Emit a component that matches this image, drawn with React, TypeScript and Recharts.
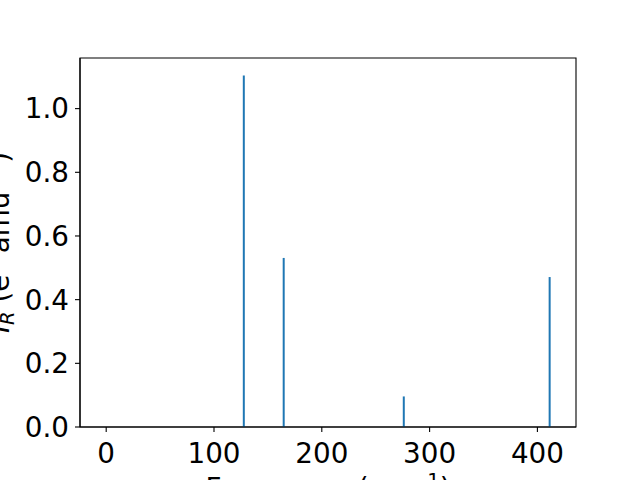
import { BarChart, Bar, XAxis, YAxis, Label, ReferenceArea } from "recharts";

// stick spectrum: frequency (cm^-1) vs IR intensity
const frequencies = [127.6, 164.6, 276.0, 411.3];
const intensities = [1.104, 0.531, 0.096, 0.471];
const xTicks = [0, 100, 200, 300, 400];
const yTicks = [0, 0.2, 0.4, 0.6, 0.8, 1.0];
const xDomain = [-24.3, 435.8];
const yDomain = [0, 1.159];

const data = frequencies.map((f, i) => ({ freq: f, ir: intensities[i] }));

const FONT = "DejaVu Sans";
const FS = 27.8;
const SUB = 19.5;

function YTitle({ viewBox }: any) {
  const x = viewBox.x + 9;
  const y = viewBox.y + viewBox.height / 2;
  return (
    <text
      x={x}
      y={y}
      transform={`rotate(-90, ${x}, ${y})`}
      textAnchor="middle"
      fontFamily={FONT}
      fontSize={FS}
      fill="#000"
    >
      <tspan fontStyle="italic">I</tspan>
      <tspan fontStyle="italic" fontSize={SUB} dy={5}>R</tspan>
      <tspan dy={-5}> (e</tspan>
      <tspan fontSize={SUB} dy={-11}>2</tspan>
      <tspan dy={11}> amu</tspan>
      <tspan fontSize={SUB} dy={-11}>−1</tspan>
      <tspan dy={11}>)</tspan>
    </text>
  );
}

function XTitle({ viewBox }: any) {
  const x = viewBox.x + viewBox.width / 2;
  const y = 498;
  return (
    <text x={x} y={y} textAnchor="middle" fontFamily={FONT} fontSize={FS} fill="#000">
      <tspan>Frequency (cm</tspan>
      <tspan fontSize={SUB} dy={-11}>−1</tspan>
      <tspan dy={11}>)</tspan>
    </text>
  );
}

export default function App() {
  const tick = { fontFamily: FONT, fontSize: FS, fill: "#000" };
  return (
    <div style={{ position: "absolute", left: 0, top: 0, width: 640, height: 480, background: "#fff" }}>
      <BarChart
        width={640}
        height={480}
        data={data}
        margin={{ top: 58, right: 64, bottom: 0, left: 0 }}
      >
        <XAxis
          dataKey="freq"
          type="number"
          domain={xDomain}
          ticks={xTicks}
          allowDataOverflow
          height={53}
          tick={tick}
          tickSize={5}
          tickMargin={11}
          tickLine={{ stroke: "#000", strokeWidth: 1.1 }}
          axisLine={{ stroke: "#000", strokeWidth: 1.1 }}
          interval={0}
        >
          <Label content={XTitle} />
        </XAxis>
        <YAxis
          type="number"
          domain={yDomain}
          ticks={yTicks}
          allowDataOverflow
          width={80}
          tick={tick}
          tickSize={5}
          tickMargin={6}
          tickFormatter={(v: number) => v.toFixed(1)}
          tickLine={{ stroke: "#000", strokeWidth: 1.1 }}
          axisLine={{ stroke: "#000", strokeWidth: 1.1 }}
          interval={0}
        >
          <Label content={YTitle} />
        </YAxis>
        <Bar dataKey="ir" fill="#1f77b4" barSize={2} isAnimationActive={false} />
        <ReferenceArea
          x1={xDomain[0]}
          x2={xDomain[1]}
          y1={yDomain[0]}
          y2={yDomain[1]}
          fill="none"
          fillOpacity={0}
          stroke="#000"
          strokeWidth={1.1}
          strokeOpacity={1}
          ifOverflow="visible"
        />
      </BarChart>
    </div>
  );
}
